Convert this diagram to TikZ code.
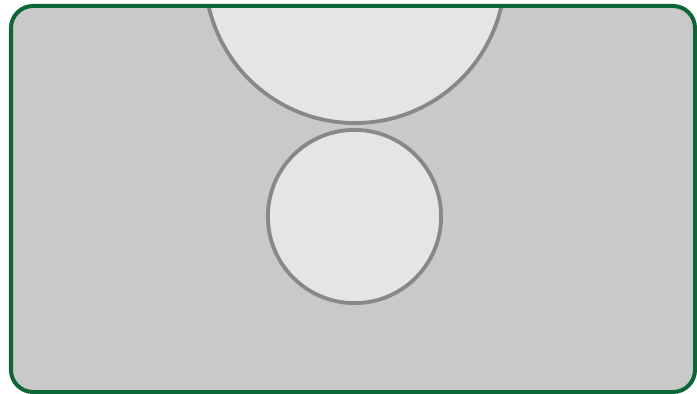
\documentclass[tikz,border=0pt]{standalone}
\definecolor{framegreen}{RGB}{12,102,54}
\definecolor{panelgray}{RGB}{201,201,201}
\definecolor{discfill}{RGB}{229,229,229}
\definecolor{discline}{RGB}{136,136,136}
\tikzset{
  panel/.style={rounded corners=0.55cm},
  disc/.style={circle,draw=discline,fill=discfill,line width=0.095cm,inner sep=0pt}
}
\begin{document}
\begin{tikzpicture}[x=0.025cm,y=-0.025cm]
  \useasboundingbox (0,0) rectangle (697,394);
  \begin{scope}
    \clip[panel] (11,6) rectangle (695,392);
    \fill[panelgray] (11,6) rectangle (695,392);
    \node[disc,minimum size=7.5cm] (upper) at (355,-27) {};
  \end{scope}
  \node[disc,minimum size=4.33cm] (lower) at (354.5,216.5) {};
  \draw[panel,framegreen,line width=0.1cm] (11,6) rectangle (695,392);
\end{tikzpicture}
\end{document}
